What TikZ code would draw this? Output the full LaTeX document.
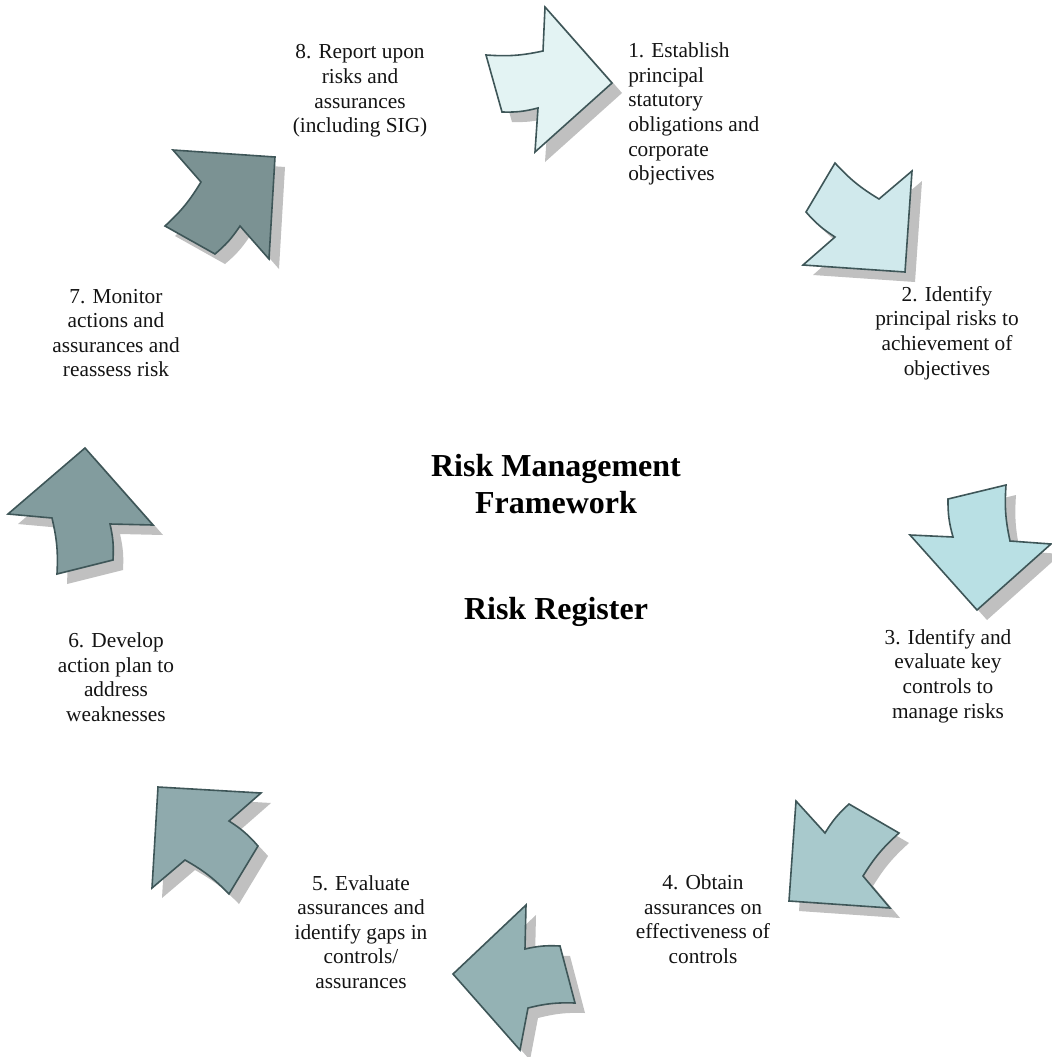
\documentclass[tikz,border=0pt]{standalone}
\usepackage{fontspec}
\setmainfont{Liberation Serif}
\definecolor{edge}{RGB}{62,86,88}
\definecolor{shadowgray}{RGB}{192,192,192}
\definecolor{inktext}{RGB}{20,20,20}
\definecolor{stepA}{RGB}{227,243,243}
\definecolor{stepB}{RGB}{208,233,236}
\definecolor{stepC}{RGB}{185,224,228}
\definecolor{stepD}{RGB}{168,201,204}
\definecolor{stepE}{RGB}{148,178,180}
\definecolor{stepF}{RGB}{143,170,173}
\definecolor{stepG}{RGB}{130,156,158}
\definecolor{stepH}{RGB}{123,146,147}
% one block arrow: grey drop shadow first, then the outlined shape
\newcommand\blockarrow[2]{%
  \fill[shadowgray, xshift=7.5pt, yshift=-7.5pt] #2;
  \filldraw[arrowline, fill=#1] #2;}
\begin{document}
\begin{tikzpicture}[x=0.75pt, y=-0.75pt,
  arrowline/.style={draw=edge, line width=1.2pt, line join=miter},
  outer/.style={bend right=8},
  inner/.style={bend left=8},
  lbl/.style={font=\fontsize{16}{18.45}\selectfont, align=center, inner sep=0pt, text=inktext},
  headline/.style={font=\fontsize{24}{27.6}\selectfont\bfseries, align=center, inner sep=0pt, text=black}]
\fill[white] (0,0) rectangle (1051,1057);
\useasboundingbox (0,0) rectangle (1051,1057);

% the eight arrows, clockwise from the top; shaft sides follow the ring
\blockarrow{stepA}{(486,55) to[outer] (543,51) -- (545,7) -- (612,83) -- (535,152) -- (538,108) to[inner] (502,112) -- cycle}
\blockarrow{stepB}{(835,163) to[outer] (879,199) -- (912,171) -- (905,272) -- (803,265) -- (835,237) to[inner] (806,212) -- cycle}
\blockarrow{stepC}{(948,499) -- (1006,485) to[outer] (1010,541) -- (1051,544) -- (977,610) -- (910,535) -- (953,537) to[inner] cycle}
\blockarrow{stepD}{(789,901) -- (796,801) -- (825,833) to[inner] (849,804) -- (899,833) to[outer] (863,876) -- (890,908) -- cycle}
\blockarrow{stepE}{(453,974) -- (526,905) -- (525,949) to[inner] (560,946) -- (575,1003) to[outer] (528,1008) -- (520,1050) -- cycle}
\blockarrow{stepF}{(158,787) -- (261,793) -- (229,821) to[inner] (258,846) -- (229,894) to[outer] (185,860) -- (152,888) -- cycle}
\blockarrow{stepG}{(85,448) -- (153,525) -- (110,524) to[inner] (113,560) -- (57,574) to[outer] (52,518) -- (8,514) -- cycle}
\blockarrow{stepH}{(173,150) -- (275,157) -- (269,259) -- (240,226) to[inner] (215,254) -- (165,226) to[outer] (201,182) -- cycle}

% centre titles
\node[headline] (title) at (556,484) {Risk Management\\Framework};
\node[headline] (register) at (556,612) {Risk Register};

% step labels
\node[lbl, align=left, anchor=west] (l1) at (628,114) {1. Establish\\principal\\statutory\\obligations and\\corporate\\objectives};
\node[lbl] (l2) at (947,333) {2. Identify\\principal risks to\\achievement of\\objectives};
\node[lbl] (l3) at (948,676) {3. Identify and\\evaluate key\\controls to\\manage risks};
\node[lbl] (l4) at (703,919) {4. Obtain\\assurances on\\effectiveness of\\controls};
\node[lbl] (l5) at (361,932) {5. Evaluate\\assurances and\\identify gaps in\\controls/\\assurances};
\node[lbl] (l6) at (116,677) {6. Develop\\action plan to\\address\\weaknesses};
\node[lbl] (l7) at (116,333) {7. Monitor\\actions and\\assurances and\\reassess risk};
\node[lbl] (l8) at (360,91) {8. Report upon\\risks and\\assurances\\(including SIG)};
\end{tikzpicture}
\end{document}
